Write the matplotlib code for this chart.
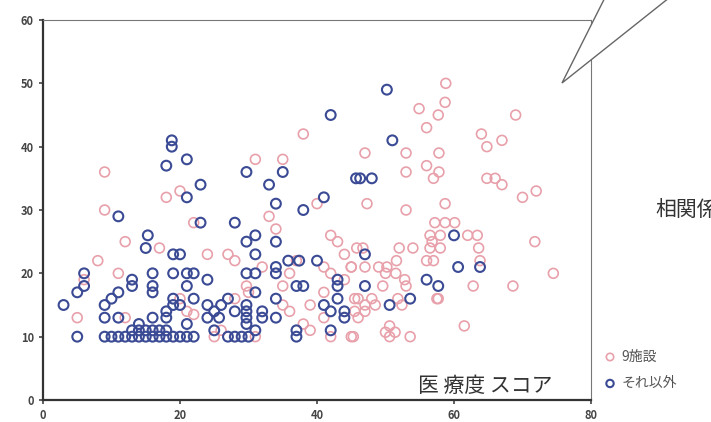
import matplotlib.pyplot as plt
from matplotlib.patches import Polygon

plt.rcParams['font.family'] = ['Noto Sans CJK JP', 'DejaVu Sans']

# 9施設 (pink)
nine_x = [9, 9, 18, 20, 31, 35, 33, 38, 40, 47, 58.8, 58.7, 54.9, 57.7, 56, 69, 64, 64.8, 67,
          53, 57.8, 56, 53, 57.8, 57, 64.8, 66, 67, 70, 72, 47.3, 53, 58.7,
          8, 12, 11, 5, 6, 12, 17, 22, 24, 27, 28, 20, 21, 25, 26, 34, 35, 35, 36, 29.7, 31, 32,
          39, 38, 39, 42, 43, 44, 45, 41, 42, 41, 41, 42, 45, 44, 46, 46,
          57.2, 58.7, 60.1, 56.5, 58, 62, 63.4, 56.8, 63.6, 71.8, 56.5, 58, 54, 63.8, 74.5,
          45.8, 46.7, 47, 49, 50.2, 45, 50, 51.5, 56, 57, 52, 51.6, 68.6, 62.8, 57.7, 53, 49.6,
          45.5, 48, 47, 48.5, 52.4, 45.5, 47, 50.6, 50, 51.4, 45.3, 50.6, 53.6, 61.5, 52.8,
          51.8, 57.5, 22, 28, 30, 36, 37]
nine_y = [36, 30, 32, 33, 38, 38, 29, 42, 31, 39, 50, 47, 46, 45, 43, 45, 42, 40, 41,
          39, 39, 37, 36, 36, 35, 35, 35, 34, 32, 33, 31, 30, 31,
          22, 25, 20, 13, 19, 13, 24, 28, 23, 23, 22, 16, 14, 10, 11, 27, 18, 15, 14, 18, 10, 21,
          15, 12, 11, 26, 25, 23, 21, 21, 20, 17, 13, 10, 10, 19, 16, 13,
          28, 28, 28, 26, 26, 26, 26, 25, 24, 25, 24, 24, 24, 22, 20,
          24, 24, 21, 21, 21, 21, 20, 20, 22, 22, 24, 22, 18, 18, 16, 18, 18,
          16, 16, 15, 15, 15, 14, 14, 11.7, 10.7, 10.7, 10, 10, 10, 11.7, 19,
          16, 16, 13.5, 16, 17, 20, 22]

# それ以外 (blue)
other_x = [18.8, 18.8, 18, 21, 21, 23, 29.7, 33, 34, 35, 38, 41, 42, 45.7, 48, 46.3, 50.2, 51,
           3, 5, 5, 6, 6, 9, 9, 10, 11, 11, 11, 13, 13, 15.3, 15, 16, 16, 16, 16, 14,
           19, 20, 19, 19, 19, 18, 18, 20, 21, 22, 21, 22, 21, 23, 24, 24, 24, 25, 25.7, 25,
           26, 27, 28, 28, 29.7, 31, 31, 29.7, 31, 31, 29.7, 29.7, 29.7, 29.7, 31, 32, 32,
           34, 34, 34, 34, 34, 35.8, 37.4, 37, 38, 37, 37, 40, 41, 42, 43, 43, 43, 44, 44, 42,
           47, 60.6, 63.8, 56, 57.7, 47, 50.6, 53.6, 60,
           9, 10, 11, 12, 13, 14, 15, 16, 17, 18, 19, 20, 21, 22, 27, 28, 29, 30,
           13, 14, 15, 16, 17, 18]
other_y = [41, 40, 37, 38, 32, 34, 36, 34, 31, 36, 30, 32, 45, 35, 35, 35, 49, 41,
           15, 10, 17, 20, 18, 15, 13, 16, 29, 17, 13, 19, 18, 26, 24, 20, 18, 17, 13, 12,
           23, 23, 20, 16, 15, 14, 13, 15, 20, 20, 18, 16, 12, 28, 19, 15, 13, 14, 13, 11,
           15, 16, 28, 14, 25, 26, 23, 20, 20, 17, 15, 14, 13, 12, 11, 14, 13,
           25, 21, 20, 16, 13, 22, 22, 18, 18, 11, 10, 22, 15, 14, 19, 18, 16, 14, 13, 11,
           23, 21, 21, 19, 18, 18, 15, 16, 26,
           10, 10, 10, 10, 10, 10, 10, 10, 10, 10, 10, 10, 10, 10, 10, 10, 10, 10,
           11, 11, 11, 11, 11, 11]

pink = '#e8a0aa'
blue = '#3a4a94'

fig = plt.figure(figsize=(7.11, 4.22), dpi=100)
ax = fig.add_axes([43 / 711, 22 / 422, 548 / 711, 380 / 422])

ax.scatter(nine_x, nine_y, s=50, facecolors='none', edgecolors=pink, linewidths=1.2,
           label='9施設', zorder=2)
ax.scatter(other_x, other_y, s=50, facecolors='none', edgecolors=blue, linewidths=1.5,
           label='それ以外', zorder=3)

ax.set_xlim(0, 80)
ax.set_ylim(0, 60)
ax.set_xticks([0, 20, 40, 60, 80])
ax.set_yticks([0, 10, 20, 30, 40, 50, 60])
ax.tick_params(labelsize=8, colors='#444444', length=3, width=1.2)
for lab in ax.get_xticklabels() + ax.get_yticklabels():
    lab.set_fontweight('bold')
ax.spines['left'].set_color('#333333')
ax.spines['bottom'].set_color('#333333')
ax.spines['left'].set_linewidth(1.6)
ax.spines['bottom'].set_linewidth(1.6)
ax.spines['top'].set_color('#777777')
ax.spines['right'].set_color('#777777')

ax.text(0.93, 0.037, '医 療度 スコア', transform=ax.transAxes, ha='right', va='center',
        fontsize=15, color='#333333')

ax.legend(loc='lower left', bbox_to_anchor=(1.022, 0.026), frameon=False, fontsize=10,
          handlelength=1.0, handletextpad=0.35, labelspacing=0.9, borderaxespad=0,
          borderpad=0, markerscale=0.75, labelcolor='#555555')

# speech bubble
bubble = Polygon([(608 / 711, 1.02), (562 / 711, 1 - 83 / 422), (677 / 711, 1.02)],
                 closed=False, transform=fig.transFigure, facecolor='white',
                 edgecolor='#666666', linewidth=1.0, zorder=10, clip_on=False)
fig.add_artist(bubble)
fig.text(655 / 711, 1 - 210 / 422, '相関係数', fontsize=15, color='#333333', va='center')

fig.savefig('out.png', dpi=100)
